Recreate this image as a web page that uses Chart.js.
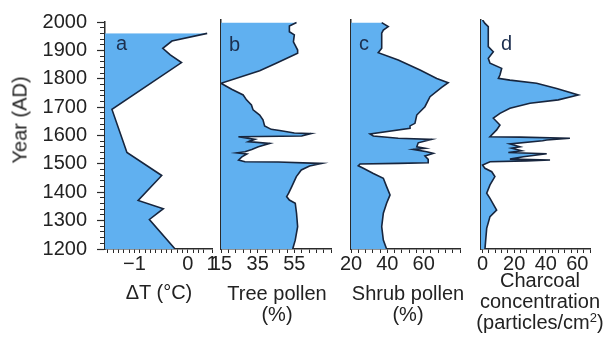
<!DOCTYPE html>
<html>
<head>
<meta charset="utf-8">
<script src="https://cdn.jsdelivr.net/npm/chart.js@4"></script>
<style>
  body { margin: 0; background: #fff; }
  #wrap { position: relative; width: 616px; height: 345px; font-family: "Liberation Sans", Arial, sans-serif; }
  #wrap canvas { position: absolute; left: 0; top: 0; }
  .tag { position: absolute; font-size: 20px; line-height: 1; color: #1c2f4f; }
  .xt { position: absolute; font-size: 20px; line-height: 21px; color: #222; white-space: nowrap;
        text-align: center; transform: translateX(-50%); }
  .xt sup { font-size: 13px; line-height: 0; vertical-align: 7px; }
  #ytitle { position: absolute; left: 20px; top: 120px; font-size: 20px; color: #222; white-space: nowrap;
            transform: translate(-50%, -50%) rotate(-90deg); }
</style>
</head>
<body>
<div id="wrap">
  <canvas id="pa" width="616" height="345"></canvas>
  <canvas id="pb" width="616" height="345"></canvas>
  <canvas id="pc" width="616" height="345"></canvas>
  <canvas id="pd" width="616" height="345"></canvas>
  <div id="ytitle">Year (AD)</div>
  <div class="tag" style="left:116px;top:33px">a</div>
  <div class="tag" style="left:229px;top:34px">b</div>
  <div class="tag" style="left:359px;top:33px">c</div>
  <div class="tag" style="left:501px;top:33px">d</div>
  <div class="xt" style="left:159px;top:282px">&Delta;T (&deg;C)</div>
  <div class="xt" style="left:277px;top:283px">Tree pollen<br>(%)</div>
  <div class="xt" style="left:408px;top:283px">Shrub pollen<br>(%)</div>
  <div class="xt" style="left:540px;top:270px">Charcoal<br>concentration<br>(particles/cm<sup>2</sup>)</div>
</div>
<script>
// year axis
const yearTicks = [1200, 1300, 1400, 1500, 1600, 1700, 1800, 1900, 2000];

// a: temperature anomaly
const aYears = [1960, 1933, 1907, 1884, 1857, 1692, 1540, 1459, 1371, 1342, 1304, 1200];
const aTemp  = [0.36, -0.30, -0.47, -0.33, -0.12, -1.42, -1.14, -0.49, -0.93, -0.46, -0.72, -0.24];
const aTickVals = [-1, 0, 0.45];
const aTickText = ['\u22121', '0', '1'];

// b: tree pollen (%)
const bYears = [1991, 1979, 1959, 1948, 1924, 1895, 1884, 1849, 1823, 1779, 1758, 1738, 1721, 1703, 1686,
  1668, 1651, 1630, 1618, 1614, 1605, 1603, 1595, 1592, 1583, 1575, 1569, 1557, 1548, 1540, 1536, 1532,
  1522, 1511, 1505, 1504, 1500, 1499, 1490, 1476, 1453, 1418, 1395, 1383, 1371, 1360, 1325, 1278, 1231, 1200];
const bTree = [56.2, 52.3, 52.3, 55.0, 54.5, 56.8, 56.8, 45.1, 36.1, 15.0, 20.8, 27.1, 28.9, 31.6, 32.5,
  36.1, 37.9, 38.8, 42.4, 47.0, 55.0, 64.0, 59.0, 24.5, 33.5, 30.0, 41.6, 35.4, 31.8, 28.1, 23.6, 29.1,
  26.4, 24.6, 28.1, 46.2, 64.2, 70.0, 63.3, 58.8, 56.1, 53.6, 51.9, 50.8, 52.3, 55.5, 56.2, 56.8, 55.5, 54.1];
const bTickVals = [15, 35, 55];

// c: shrub pollen (%)
const cYears = [1991, 1977, 1965, 1954, 1901, 1886, 1860, 1825, 1796, 1781, 1765, 1732, 1697, 1668, 1639,
  1630, 1622, 1602, 1595, 1587, 1583, 1571, 1557, 1552, 1548, 1540, 1534, 1525, 1513, 1501, 1499, 1497,
  1491, 1482, 1464, 1447, 1418, 1389, 1360, 1325, 1278, 1231, 1200];
const cShrub = [36.9, 40.5, 37.8, 36.9, 36.9, 35.0, 46.0, 58.0, 67.2, 73.5, 69.9, 63.5, 60.7, 56.2, 55.2,
  52.5, 52.5, 30.5, 32.3, 46.0, 64.4, 57.0, 56.2, 60.7, 54.3, 61.7, 65.3, 60.7, 62.5, 62.5, 46.0, 25.0,
  24.0, 26.8, 32.3, 37.8, 39.6, 41.5, 39.6, 37.8, 36.9, 37.8, 39.6];
const cTickVals = [20, 40, 60];

// d: charcoal concentration (particles/cm2)
const dYears = [2000, 1988, 1977, 1907, 1889, 1866, 1849, 1831, 1808, 1796, 1790, 1779, 1761, 1738, 1721,
  1709, 1692, 1674, 1657, 1633, 1616, 1592, 1591, 1587, 1581, 1578, 1567, 1557, 1552, 1543, 1537, 1533,
  1522, 1514, 1511, 1508, 1505, 1493, 1482, 1470, 1453, 1424, 1395, 1377, 1336, 1313, 1272, 1200];
const dCharcoal = [0, 1.5, 3.6, 3.6, 6.8, 3.6, 4.7, 12.1, 11.0, 10.0, 17.3, 34.2, 46.9, 60.6, 47.9,
  30.0, 17.3, 11.0, 6.8, 11.0, 8.9, 4.7, 23.7, 55.3, 40.6, 38.0, 17.3, 23.7, 18.4, 24.7, 16.3, 40.6,
  25.8, 17.3, 42.7, 27.9, 4.7, 0, 1.5, 5.8, 7.8, 4.7, 2.6, 4.7, 8.9, 4.7, 2.6, 1.5];
const dTickVals = [0, 20, 40, 60];

const FONT = "'Liberation Sans', Arial, sans-serif";
const TXT = '#222';
const AX = '#2a2a2a';
const LINE = '#17253d';
const FILL = '#60b0f0';

function steps(from, to, step) {
  const out = [];
  for (let v = from; v <= to + 1e-9; v += step) out.push(Math.round(v * 100) / 100);
  return out;
}

function panel(id, years, vals, o) {
  const pts = years.map((y, i) => ({ x: vals[i], y: y }));
  const yAxis = o.yLabels ? {
    type: 'linear', min: 1200, max: 2000,
    afterFit: s => { s.width = o.left; },
    border: { color: AX, width: 1.5 },
    grid: {
      drawOnChartArea: false, tickLength: 8, tickColor: AX, tickWidth: 1.2,
      tickBorderDash: c => (c.tick && c.tick.value % 100 === 0) ? [] : [0, 3, 5, 0]
    },
    ticks: {
      stepSize: 20, autoSkip: false, padding: 10, color: TXT, font: { size: 20, family: FONT },
      callback: v => yearTicks.includes(v) ? String(v) : ''
    }
  } : {
    type: 'linear', min: 1200, max: 2000,
    afterFit: s => { s.width = 0; },
    border: { color: AX, width: 1.5 },
    grid: { drawOnChartArea: false, drawTicks: false },
    ticks: { display: false }
  };

  return new Chart(document.getElementById(id), {
    type: 'line',
    data: {
      datasets: [{
        data: pts,
        borderColor: LINE,
        borderWidth: 1.6,
        backgroundColor: FILL,
        fill: { value: o.min },
        pointRadius: 0,
        tension: 0
      }]
    },
    options: {
      indexAxis: 'y',
      responsive: false,
      animation: false,
      layout: { padding: { left: o.yLabels ? 0 : o.left, right: 616 - o.right, top: 20, bottom: 0 } },
      plugins: { legend: { display: false }, tooltip: { enabled: false } },
      scales: {
        x: {
          type: 'linear', min: o.min, max: o.max,
          afterBuildTicks: s => { s.ticks = o.minor.map(v => ({ value: v })); },
          afterFit: s => { s.height = 96; s.paddingLeft = 0; s.paddingRight = 0; },
          border: { color: AX, width: 1.5 },
          grid: { drawOnChartArea: false, tickLength: 4, tickColor: AX, tickWidth: 1 },
          ticks: {
            autoSkip: false, maxRotation: 0, padding: -1, color: TXT, font: { size: 20, family: FONT },
            callback: v => {
              const i = o.tickVals.findIndex(t => Math.abs(t - v) < 1e-6);
              return i < 0 ? '' : o.tickText[i];
            }
          }
        },
        y: yAxis
      }
    }
  });
}

panel('pa', aYears, aTemp, {
  left: 105, right: 212, min: -1.55, max: 0.45, yLabels: true,
  minor: steps(-1.5, 0.3, 0.1).concat([0.45]),
  tickVals: aTickVals, tickText: aTickText
});
panel('pb', bYears, bTree, {
  left: 221, right: 331, min: 15, max: 75,
  minor: steps(15, 75, 4),
  tickVals: bTickVals, tickText: bTickVals.map(String)
});
panel('pc', cYears, cShrub, {
  left: 351, right: 460, min: 20, max: 80,
  minor: steps(20, 80, 4),
  tickVals: cTickVals, tickText: cTickVals.map(String)
});
panel('pd', dYears, dCharcoal, {
  left: 481, right: 590, min: -1, max: 68,
  minor: steps(0, 68, 4),
  tickVals: dTickVals, tickText: dTickVals.map(String)
});
</script>
</body>
</html>
